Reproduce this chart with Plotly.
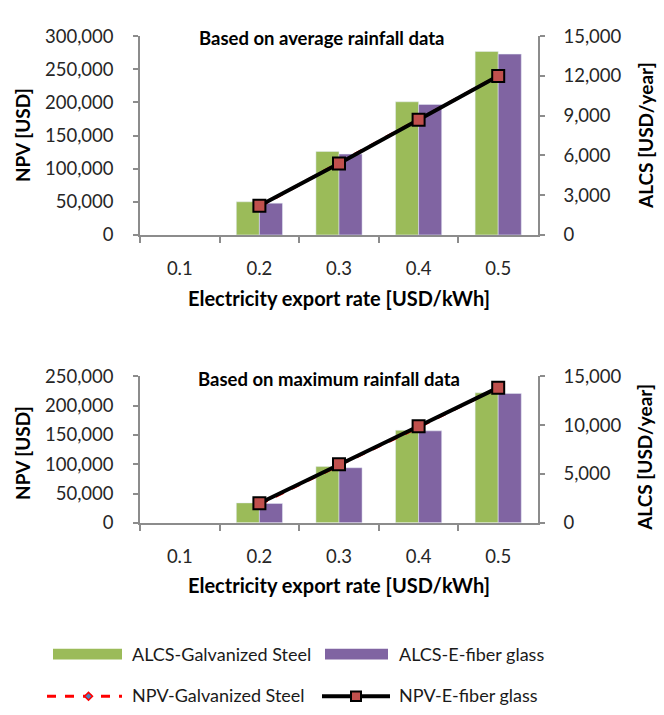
import plotly.graph_objects as go

W, H = 664, 715

# Category axis: electricity export rate [USD/kWh]
rates = ["0.1", "0.2", "0.3", "0.4", "0.5"]

# Average rainfall case
avg_alcs_steel = [None, 50000, 126000, 201000, 277000]
avg_alcs_glass = [None, 48000, 122000, 197000, 273000]
avg_npv_steel = [None, 2150, 5450, 8750, 12000]
avg_npv_glass = [None, 2200, 5400, 8700, 12000]

# Maximum rainfall case
max_alcs_steel = [None, 34000, 96000, 158000, 222000]
max_alcs_glass = [None, 33000, 94000, 157000, 221000]
max_npv_steel = [None, 1900, 5900, 9800, 13850]
max_npv_glass = [None, 2000, 6000, 9900, 13850]

panel_titles = ["Based on average rainfall data", "Based on maximum rainfall data"]
x_title = "Electricity export rate [USD/kWh]"
left_title = "NPV [USD]"
right_title = "ALCS [USD/year]"
legend_names = ["ALCS-Galvanized Steel", "ALCS-E-fiber glass",
                "NPV-Galvanized Steel", "NPV-E-fiber glass"]

GREEN = "#9BBB59"
PURPLE = "#8064A2"
RED_MARK = "#C0504D"
AXIS = "#8C8C8C"
FONT = "Lato"
TICKFONT = dict(family=FONT, size=18.5, color="#262626")


def px(x):
    return x / W


def py(y):
    return 1 - y / H


fig = go.Figure()


def add_panel(xa, ya, ya2, steel_bars, glass_bars, steel_line, glass_line):
    fig.add_trace(go.Bar(x=rates, y=steel_bars, name=legend_names[0],
                         marker_color=GREEN, xaxis=xa, yaxis=ya, showlegend=False))
    fig.add_trace(go.Bar(x=rates, y=glass_bars, name=legend_names[1],
                         marker_color=PURPLE, xaxis=xa, yaxis=ya, showlegend=False))
    fig.add_trace(go.Scatter(x=rates, y=steel_line, name=legend_names[2],
                             mode="lines+markers", xaxis=xa, yaxis=ya2,
                             line=dict(color="#FF0000", width=3, dash="dash"),
                             marker=dict(symbol="diamond", size=7, color="#4F81BD",
                                         line=dict(color="#FF0000", width=1.5)),
                             cliponaxis=False, showlegend=False))
    fig.add_trace(go.Scatter(x=rates, y=glass_line, name=legend_names[3],
                             mode="lines+markers", xaxis=xa, yaxis=ya2,
                             line=dict(color="black", width=4),
                             marker=dict(symbol="square", size=12, color=RED_MARK,
                                         line=dict(color="black", width=2)),
                             cliponaxis=False, showlegend=False))


add_panel("x", "y", "y2", avg_alcs_steel, avg_alcs_glass, avg_npv_steel, avg_npv_glass)
add_panel("x2", "y3", "y4", max_alcs_steel, max_alcs_glass, max_npv_steel, max_npv_glass)

xdom = [px(140), px(538)]
top_dom = [py(230), py(25)]
bot_dom = [py(527), py(376)]

axis_common = dict(showline=True, linecolor=AXIS, linewidth=1.5, ticks="outside",
                   tickcolor=AXIS, tickwidth=1.5, showgrid=False, zeroline=False,
                   tickfont=TICKFONT)

xcommon = dict(axis_common, type="category", tickson="boundaries", ticklen=6,
               ticklabelstandoff=16, domain=xdom, range=[-0.5, 4.5])

fig.update_layout(
    width=W, height=H, margin=dict(l=0, r=0, t=0, b=0),
    paper_bgcolor="white", plot_bgcolor="white",
    barmode="group", bargap=0.42, bargroupgap=0,
    font=dict(family=FONT),
    xaxis=dict(xcommon, anchor="y"),
    yaxis=dict(axis_common, domain=top_dom, range=[0, 300000], dtick=50000,
               tickformat=",", ticklen=5, ticklabelstandoff=16, anchor="x"),
    yaxis2=dict(axis_common, overlaying="y", side="right", range=[0, 15000],
                dtick=3000, tickformat=",", ticklen=5, ticklabelstandoff=15, anchor="x"),
    xaxis2=dict(xcommon, anchor="y3"),
    yaxis3=dict(axis_common, domain=bot_dom, range=[0, 250000], dtick=50000,
                tickformat=",", ticklen=5, ticklabelstandoff=16, anchor="x2"),
    yaxis4=dict(axis_common, overlaying="y3", side="right", range=[0, 15000],
                dtick=5000, tickformat=",", ticklen=5, ticklabelstandoff=15, anchor="x2"),
)

ann = []
bold = dict(family=FONT, size=19, color="black", weight="bold")
# panel titles
ann.append(dict(text=panel_titles[0], x=px(322), y=py(27), font=dict(bold, size=18.5)))
ann.append(dict(text=panel_titles[1], x=px(329), y=py(379), font=dict(bold, size=18.5)))
# x titles
ann.append(dict(text=x_title, x=px(339), y=py(295), font=dict(bold, size=20)))
ann.append(dict(text=x_title, x=px(339), y=py(591), font=dict(bold, size=20)))
# y titles
ann.append(dict(text=left_title, x=px(22), y=py(127), font=bold, textangle=-90))
ann.append(dict(text=left_title, x=px(22), y=py(455), font=bold, textangle=-90))
ann.append(dict(text=right_title, x=px(645), y=py(128), font=bold, textangle=-90))
ann.append(dict(text=right_title, x=px(645), y=py(460), font=bold, textangle=-90))

legfont = dict(family=FONT, size=18, color="#1a1a1a")
ann.append(dict(text=legend_names[0], x=px(130), y=py(662), xanchor="left", font=legfont))
ann.append(dict(text=legend_names[1], x=px(397), y=py(662), xanchor="left", font=legfont))
ann.append(dict(text=legend_names[2], x=px(130), y=py(705), xanchor="left", font=legfont))
ann.append(dict(text=legend_names[3], x=px(397), y=py(705), xanchor="left", font=legfont))

for a in ann:
    a.update(xref="paper", yref="paper", showarrow=False)
    a.setdefault("xanchor", "center")
    a.setdefault("yanchor", "middle")
fig.update_layout(annotations=ann)

# legend swatches
shapes = [
    dict(type="rect", x0=px(53), x1=px(122), y0=py(668), y1=py(657),
         fillcolor=GREEN, line=dict(width=0)),
    dict(type="rect", x0=px(325), x1=px(388), y0=py(668), y1=py(657),
         fillcolor=PURPLE, line=dict(width=0)),
    dict(type="line", x0=px(47), x1=px(122), y0=py(706), y1=py(706),
         line=dict(color="#FF0000", width=3, dash="dash")),
    dict(type="path",
         path=f"M {px(84.5)},{py(706)} L {px(88.5)},{py(702)} L {px(92.5)},{py(706)} L {px(88.5)},{py(710)} Z",
         fillcolor="#4F81BD", line=dict(color="#FF0000", width=1.5)),
    dict(type="line", x0=px(322), x1=px(390), y0=py(706), y1=py(706),
         line=dict(color="black", width=4)),
    dict(type="rect", x0=px(351), x1=px(361), y0=py(711), y1=py(701),
         fillcolor=RED_MARK, line=dict(color="black", width=2)),
]
for s in shapes:
    s.update(xref="paper", yref="paper")
fig.update_layout(shapes=shapes)

fig.write_html("out.html")
